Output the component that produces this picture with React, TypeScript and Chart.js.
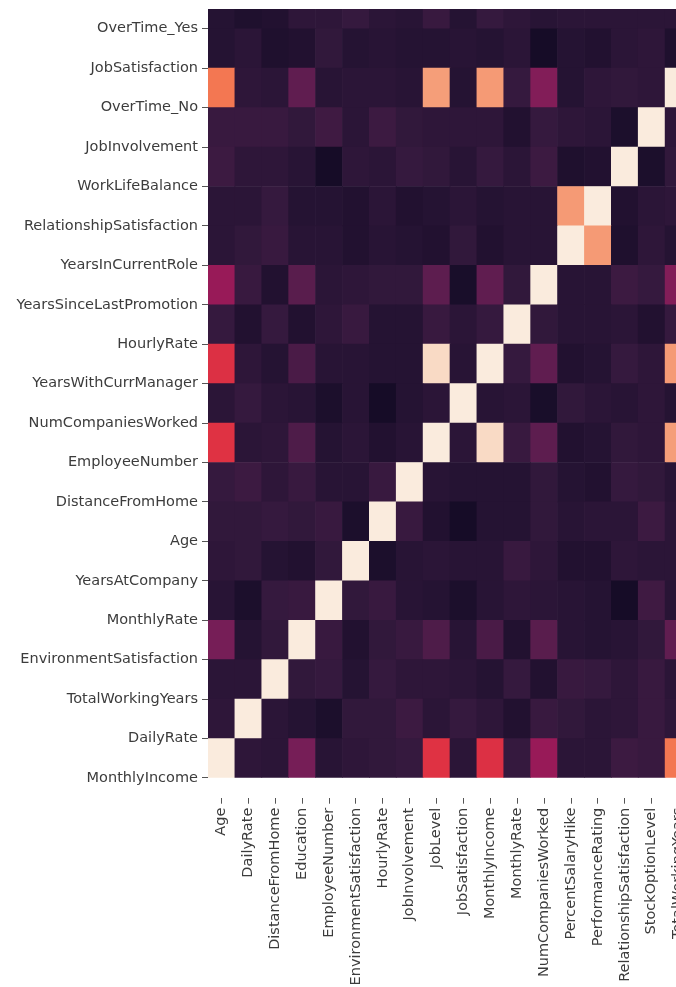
import React, { useEffect, useRef } from "react";
import { Chart, registerables } from "chart.js";

Chart.register(...registerables);

const columnLabels = [
  "Age", "DailyRate", "DistanceFromHome", "Education", "EmployeeNumber", "EnvironmentSatisfaction",
  "HourlyRate", "JobInvolvement", "JobLevel", "JobSatisfaction", "MonthlyIncome", "MonthlyRate",
  "NumCompaniesWorked", "PercentSalaryHike", "PerformanceRating", "RelationshipSatisfaction",
  "StockOptionLevel", "TotalWorkingYears",
];

// bottom to top, as the value axis runs
const rowLabels = [
  "MonthlyIncome", "DailyRate", "TotalWorkingYears", "EnvironmentSatisfaction", "MonthlyRate",
  "YearsAtCompany", "Age", "DistanceFromHome", "EmployeeNumber", "NumCompaniesWorked",
  "YearsWithCurrManager", "HourlyRate", "YearsSinceLastPromotion", "YearsInCurrentRole",
  "RelationshipSatisfaction", "WorkLifeBalance", "JobInvolvement", "OverTime_No",
  "JobSatisfaction", "OverTime_Yes",
];

const row00 = [1, .01, -.0, .21, -.01, .01, .02, .03, .51, -.0, .5, .03, .3, .0, .0, .05, .04, .68];
const row01 = [.01, 1, -.0, -.02, -.05, .02, .02, .05, .0, .03, .01, -.03, .04, .02, .0, .01, .04, .01];
const row02 = [-.0, -.0, 1, .02, .03, -.02, .03, .01, .01, -.0, -.02, .03, -.03, .04, .03, .01, .04, .0];
const row03 = [.21, -.02, .02, 1, .04, -.03, .02, .04, .1, -.01, .09, -.03, .13, -.01, -.02, -.01, .02, .15];
const row04 = [-.01, -.05, .03, .04, 1, .02, .04, -.01, -.02, -.05, -.01, .01, -.0, -.01, -.02, -.07, .06, -.01];
const row05 = [.01, .02, -.02, -.03, .02, 1, -.05, -.01, .0, -.01, -.01, .04, .01, -.03, -.03, .01, .0, -.0];
const row06 = [.02, .02, .03, .02, .04, -.05, 1, .04, -.03, -.07, -.02, -.02, .02, -.01, -.0, .0, .05, -.0];
const row07 = [.03, .05, .01, .04, -.01, -.01, .04, 1, -.01, -.02, -.02, -.02, .02, -.02, -.03, .03, .02, -.01];
const row08 = [.51, .0, .01, .1, -.02, .0, -.03, -.01, 1, -.0, .95, .04, .14, -.03, -.02, .02, .01, .78];
const row09 = [-.0, .03, -.0, -.01, -.05, -.01, -.07, -.02, -.0, 1, -.01, .0, -.06, .02, .0, -.01, .01, -.02];
const row10 = [.5, .01, -.02, .09, -.01, -.01, -.02, -.02, .95, -.01, 1, .03, .15, -.03, -.02, .03, .01, .77];
const row11 = [.03, -.03, .03, -.03, .01, .04, -.02, -.02, .04, .0, .03, 1, .02, -.01, -.01, -.0, -.03, .03];
const row12 = [.3, .04, -.03, .13, -.0, .01, .02, .02, .14, -.06, .15, .02, 1, -.01, -.01, .05, .03, .24];
const row13 = [.0, .02, .04, -.01, -.01, -.03, -.01, -.02, -.03, .02, -.03, -.01, -.01, 1, .77, -.04, .01, -.02];
const row14 = [.0, .0, .03, -.02, -.02, -.03, -.0, -.03, -.02, .0, -.02, -.01, -.01, .77, 1, -.03, .0, .01];
const row15 = [.05, .01, .01, -.01, -.07, .01, .0, .03, .02, -.01, .03, -.0, .05, -.04, -.03, 1, -.05, .02];
const row16 = [.04, .04, .04, .02, .06, .0, .05, .02, .01, .01, .01, -.03, .03, .01, .0, -.05, 1, .01];
const row17 = [.68, .01, .0, .15, -.01, -.0, -.0, -.01, .78, -.02, .77, .03, .24, -.02, .01, .02, .01, 1];
const row18 = [-.02, .0, -.04, -.03, .02, -.02, -.01, -.02, -.02, -.01, -.02, .0, -.07, -.02, -.03, .0, .01, -.04];
const row19 = [-.02, -.04, -.03, .01, .01, .03, -.0, -.01, .04, -.02, .03, .01, -.01, -.0, .0, .0, .0, .0];

const matrix = [
  row00, row01, row02, row03, row04, row05, row06, row07, row08, row09,
  row10, row11, row12, row13, row14, row15, row16, row17, row18, row19,
];

const colorStops: [number, number[]][] = [
  [0, [3, 5, 26]],
  [1 / 7, [53, 25, 62]],
  [2 / 7, [112, 31, 87]],
  [3 / 7, [173, 23, 89]],
  [4 / 7, [225, 51, 66]],
  [5 / 7, [243, 118, 81]],
  [6 / 7, [246, 180, 143]],
  [1, [250, 235, 221]],
];
const V_MIN = -0.13;
const V_MAX = 1;

function rocket(value: number): string {
  const t = Math.min(1, Math.max(0, (value - V_MIN) / (V_MAX - V_MIN)));
  for (let i = 1; i < colorStops.length; i++) {
    const [t1, c1] = colorStops[i];
    if (t <= t1) {
      const [t0, c0] = colorStops[i - 1];
      const f = (t - t0) / (t1 - t0);
      const c = c0.map((v, k) => Math.round(v + (c1[k] - v) * f));
      return `rgb(${c[0]},${c[1]},${c[2]})`;
    }
  }
  return "rgb(250,235,221)";
}

function clearPadding(scale: any) {
  scale.paddingTop = 0;
  scale.paddingBottom = 0;
  scale.paddingLeft = 0;
  scale.paddingRight = 0;
}

export default function App() {
  const ref = useRef<HTMLCanvasElement | null>(null);

  useEffect(() => {
    if (!ref.current) return;
    const tickFont = { family: "'DejaVu Sans'", size: 14.5 };
    const chart = new Chart(ref.current, {
      type: "bar",
      data: {
        labels: columnLabels,
        datasets: matrix.map((row, r) => ({
          label: rowLabels[r],
          data: row.map(() => [r, r + 1] as [number, number]),
          backgroundColor: row.map(rocket),
          borderWidth: 0,
          barPercentage: 1,
          categoryPercentage: 1,
        })),
      },
      options: {
        responsive: false,
        animation: false,
        layout: { autoPadding: false, padding: { top: 9, left: 0, right: 0, bottom: 0 } },
        plugins: { legend: { display: false }, tooltip: { enabled: false } },
        scales: {
          x: {
            stacked: true,
            afterFit: (scale: any) => { scale.height = 189.3; clearPadding(scale); },
            border: { display: false },
            grid: { drawOnChartArea: false, drawTicks: true, tickLength: 6, color: "#555", offset: false },
            ticks: {
              autoSkip: false,
              minRotation: 90,
              maxRotation: 90,
              padding: 4,
              color: "#3c3c3c",
              font: tickFont,
            },
          },
          y: {
            type: "linear",
            min: -0.5,
            max: 19.5,
            afterFit: (scale: any) => { scale.width = 208; clearPadding(scale); },
            afterBuildTicks: (scale: any) => {
              scale.ticks = rowLabels.map((_, i) => ({ value: i }));
            },
            border: { display: false },
            grid: { drawOnChartArea: false, drawTicks: true, tickLength: 6, color: "#555" },
            ticks: {
              padding: 4,
              color: "#3c3c3c",
              font: tickFont,
              callback: (v: any) => rowLabels[Number(v)] ?? "",
            },
          },
        },
      },
    });
    return () => chart.destroy();
  }, []);

  return (
    <div style={{ position: "absolute", left: 0, top: 0, width: 676, height: 987, overflow: "hidden", background: "#fff" }}>
      <canvas ref={ref} width={692} height={987} style={{ display: "block", width: 692, height: 987, filter: "blur(0.7px)" }} />
    </div>
  );
}
